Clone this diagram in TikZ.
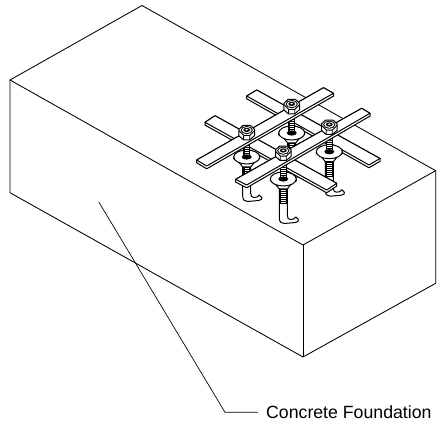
\documentclass[tikz,border=0pt]{standalone}
\usepackage{fontspec}
\usetikzlibrary{calc}
\setmainfont{Liberation Sans}
\tikzset{
  edgeline/.style={draw=black,line width=0.85pt,line join=round},
  part/.style={draw=black,fill=white,line width=1pt,line join=round},
  thin part/.style={draw=black,line width=0.85pt},
  labeltext/.style={inner sep=0pt,anchor=base west,font=\fontsize{17.7}{20}\selectfont}
}
\newcommand{\flatbar}[4]{% a b c d: top face corners, side face below b-c-d
  \draw[part] #1 -- #2 -- ($#2+(0,2.8)$) -- ($#3+(0,2.8)$) -- ($#4+(0,2.8)$) -- #4 -- cycle;
  \draw[part] #1 -- #2 -- #3 -- #4 -- cycle;
}
\newcommand{\boltlow}[2]{%
  \begin{scope}[shift={(#1,#2)}]
    \draw[part] (-4,5) -- (-4,39) .. controls (-4,43) and (-2,44.5) .. (1,44.5)
      -- (12,43.5) .. controls (14.5,43) and (16,42) .. (15,40.5)
      .. controls (14.5,39.5) and (13.5,38.5) .. (12.5,38)
      .. controls (12,40) and (9,40.5) .. (7,40.5)
      .. controls (5,40.5) and (4,39) .. (4,36) -- (4,5) -- cycle;
    \fill[black] (-3.3,8) rectangle (3.3,25);
    \foreach \ty in {9.5,11.5,...,24}{\draw[white,line width=0.3pt] (-2,\ty) -- (2.6,\ty);}
  \end{scope}
}
\newcommand{\boltup}[2]{%
  \begin{scope}[shift={(#1,#2)}]
    \draw[part] (-8,5) -- (-4,10) -- (4,10) -- (8,5) -- cycle;
    \draw[part] (-13,0) -- (-13,2) arc[start angle=180,end angle=360,x radius=13,y radius=7] -- (13,0) -- cycle;
    \draw[part] (0,0) ellipse[x radius=13,y radius=7];
    \fill[black] (-3.4,-15) rectangle (3.4,0);
    \foreach \ty in {-13,-11,...,-3}{\draw[white,line width=0.3pt] (-2,\ty) -- (2.6,\ty);}
    \fill[black] (0,0) ellipse[x radius=5,y radius=2.6];
  \end{scope}
}
\newcommand{\nutcap}[2]{%
  \begin{scope}[shift={(#1,#2)}]
    \draw[part] (-7.8,-3.4) -- (-3.8,-7.2) -- (3.8,-7.2) -- (7.8,-3.4) -- (7.8,3) -- (3,7.2) -- (-3.2,7.2) -- (-7.8,3.2) -- cycle;
    \draw[thin part] (-7.8,-2) -- (-3,2.8) -- (3,2.8) -- (7.8,-2);
    \draw[thin part] (-3,2.8) -- (-3.2,7.2) (3,2.8) -- (3,7.2);
    \draw[thin part] (0,-2.6) ellipse[x radius=5.6,y radius=3.6];
    \fill[black] (0,-2.8) ellipse[x radius=3.4,y radius=2.1];
    \fill[white] (0,-3) ellipse[x radius=1.6,y radius=0.8];
  \end{scope}
}
\begin{document}
\begin{tikzpicture}[x=1pt,y=-1pt]
\useasboundingbox (0,0) rectangle (437,422);
\fill[white] (0,0) rectangle (437,422);
% concrete block
\coordinate (lt) at (10,80);
\coordinate (bk) at (142,5.5);
\coordinate (rt) at (435.7,170.7);
\coordinate (ft) at (303,245);
\coordinate (lb) at (10,192.7);
\coordinate (fb) at (303,357);
\coordinate (rb) at (435.7,283.3);
\draw[edgeline] (lt) -- (bk) -- (rt) -- (ft) -- cycle;
\draw[edgeline] (lt) -- (lb) -- (fb) -- (rb) -- (rt);
\draw[edgeline] (ft) -- (fb);
% leader and label
\node[labeltext] (lbl) at (266,418) {Concrete Foundation};
\coordinate (ld0) at (99,202.3);
\coordinate (ld1) at (225,412.3);
\coordinate (ld2) at (258,412.3);
\draw[edgeline,line width=0.7pt] (ld0) -- (ld1) -- (ld2);
% lower bolts, behind the cross bars
\boltlow{291.7}{133}
\boltlow{329.3}{151.7}
% cross bars
\flatbar{(215,115.7)}{(336.7,183.3)}{(326.7,190)}{(205,122.3)}
\flatbar{(256.7,90)}{(380,158.5)}{(369,165)}{(246.7,96)}
% front bolts
\boltlow{246.7}{157}
\boltlow{283.3}{179}
\boltup{291.7}{133}
\boltup{329.3}{151.7}
\boltup{246.7}{157}
\boltup{283.3}{179}
% top bars
\flatbar{(323.5,87.7)}{(333.5,93.3)}{(206.7,166)}{(196.7,160)}
\flatbar{(361.7,108.3)}{(370,113.3)}{(246.7,185)}{(235.7,179.3)}
% nuts
\nutcap{291.7}{106.7}
\nutcap{246.7}{132.7}
\nutcap{329.3}{127.3}
\nutcap{283.3}{153.3}
\end{tikzpicture}
\end{document}
